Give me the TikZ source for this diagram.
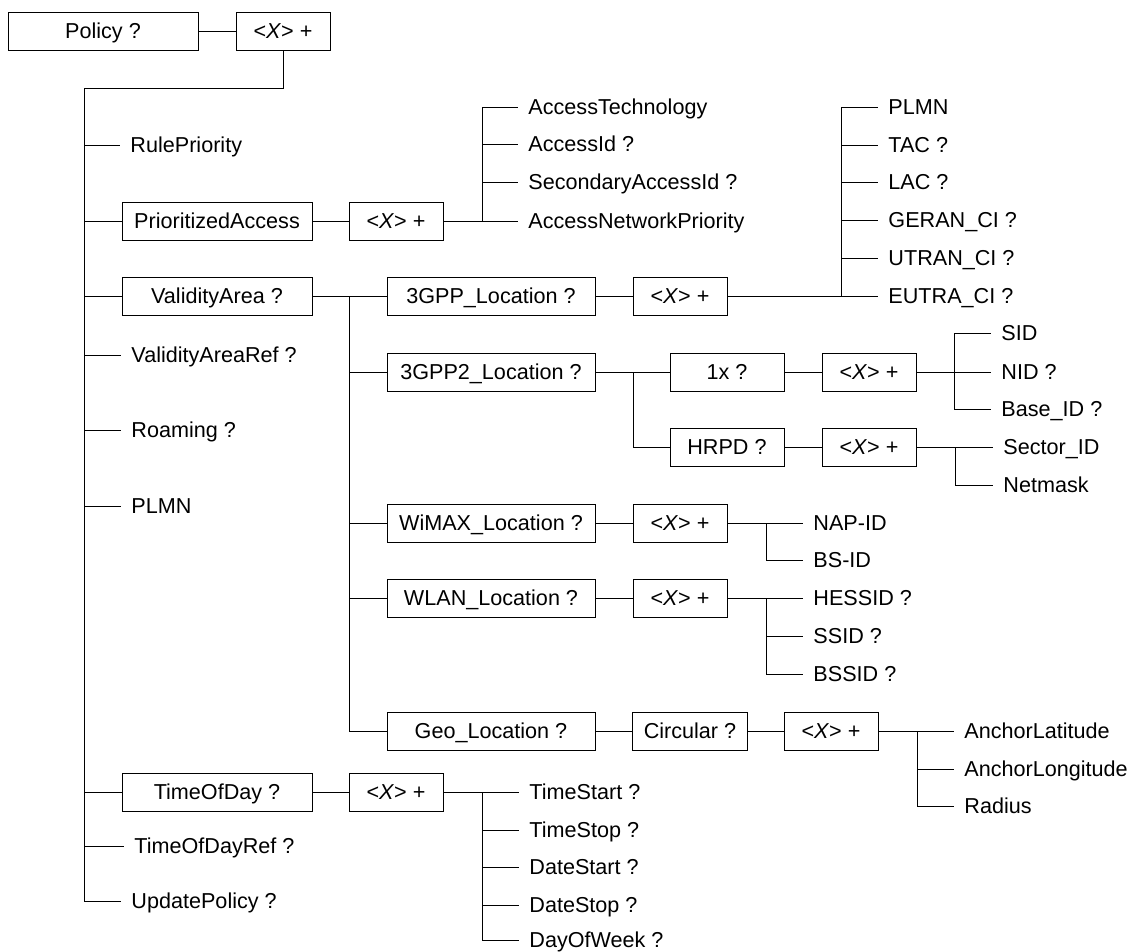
\documentclass[tikz,border=0pt]{standalone}
\usepackage{fontspec}
\setmainfont{Liberation Sans}
\newcommand{\multX}{<\textit{X}> +}

\begin{document}
\begin{tikzpicture}[x=1pt, y=-1pt, line width=0.9pt,
  every node/.style={font=\fontsize{21.6}{26}\selectfont, text height=15.5pt, text depth=0pt},
  elem/.style={rectangle, draw, minimum height=38pt, inner sep=0pt},
  lvlone/.style={elem, minimum width=190pt},
  lvltwo/.style={elem, minimum width=208pt},
  subbox/.style={elem, minimum width=114pt},
  mult/.style={elem, minimum width=94pt},
  leaf/.style={anchor=west, inner xsep=10pt, inner ysep=0pt}]
\useasboundingbox (0,0) rectangle (1130,952);

  % root
  \node[lvlone] (policy) at (103,31) {Policy ?};
  \node[mult] (policyx) at (283,31) {\multX};
  \draw (policy) -- (policyx);

  % first level
  \node[leaf] (rule) at (120,145) {RulePriority};
  \node[lvlone] (prio) at (217,221) {PrioritizedAccess};
  \node[lvlone] (valid) at (217,296) {ValidityArea ?};
  \node[leaf] (validref) at (121,355) {ValidityAreaRef ?};
  \node[leaf] (roam) at (121,430) {Roaming ?};
  \node[leaf] (plmn) at (121,506) {PLMN};
  \node[lvlone] (tod) at (217,792) {TimeOfDay ?};
  \node[leaf] (todref) at (124,846) {TimeOfDayRef ?};
  \node[leaf] (upd) at (121,901) {UpdatePolicy ?};

  \coordinate (mainbus) at (84,88);
  \draw (policyx.south) |- (mainbus) -- (mainbus |- upd.west);
  \foreach \c in {rule,prio,valid,validref,roam,plmn,tod,todref,upd}
    \draw (mainbus |- \c.west) -- (\c.west);

  % prioritized access
  \node[mult] (priox) at (396,221) {\multX};
  \node[leaf] (acctech) at (518,107) {AccessTechnology};
  \node[leaf] (accid) at (518,144) {AccessId ?};
  \node[leaf] (secid) at (518,182) {SecondaryAccessId ?};
  \node[leaf] (netprio) at (518,221) {AccessNetworkPriority};
  \draw (prio) -- (priox);
  \coordinate (accbus) at (482,221);
  \draw (priox.east) -- (accbus) |- (acctech.west);
  \foreach \c in {accid,secid,netprio}
    \draw (accbus |- \c.west) -- (\c.west);

  % validity area
  \node[lvltwo] (gpp) at (491,296) {3GPP\_Location ?};
  \node[lvltwo] (gpptwo) at (491,372) {3GPP2\_Location ?};
  \node[lvltwo] (wimax) at (491,523) {WiMAX\_Location ?};
  \node[lvltwo] (wlan) at (491,598) {WLAN\_Location ?};
  \node[lvltwo] (geo) at (491,731) {Geo\_Location ?};
  \coordinate (locbus) at (349,296);
  \draw (valid.east) -- (locbus) -- (locbus |- geo.west);
  \foreach \c in {gpp,gpptwo,wimax,wlan,geo}
    \draw (locbus |- \c.west) -- (\c.west);

  % 3GPP location
  \node[mult] (gppx) at (680,296) {\multX};
  \node[leaf] (gplmn) at (878,107) {PLMN};
  \node[leaf] (tac) at (878,145) {TAC ?};
  \node[leaf] (lac) at (878,182) {LAC ?};
  \node[leaf] (geran) at (878,220) {GERAN\_CI ?};
  \node[leaf] (utran) at (878,258) {UTRAN\_CI ?};
  \node[leaf] (eutra) at (878,296) {EUTRA\_CI ?};
  \draw (gpp) -- (gppx);
  \coordinate (gppbus) at (841,296);
  \draw (gppx.east) -- (gppbus) |- (gplmn.west);
  \foreach \c in {tac,lac,geran,utran,eutra}
    \draw (gppbus |- \c.west) -- (\c.west);

  % 3GPP2 location
  \node[subbox] (onex) at (727,372) {1x ?};
  \node[subbox] (hrpd) at (727,447) {HRPD ?};
  \node[mult] (onexx) at (869,372) {\multX};
  \node[mult] (hrpdx) at (869,447) {\multX};
  \coordinate (gpptwobus) at (633,372);
  \draw (gpptwo) -- (onex);
  \draw (gpptwobus) |- (hrpd.west);
  \draw (onex) -- (onexx);
  \draw (hrpd) -- (hrpdx);

  \node[leaf] (sid) at (991,333) {SID};
  \node[leaf] (nid) at (991,372) {NID ?};
  \node[leaf] (baseid) at (991,409) {Base\_ID ?};
  \coordinate (onexbus) at (954,372);
  \draw (onexx.east) -- (onexbus);
  \draw (onexbus |- sid.west) -- (onexbus |- baseid.west);
  \foreach \c in {sid,nid,baseid}
    \draw (onexbus |- \c.west) -- (\c.west);

  \node[leaf] (sector) at (993,447) {Sector\_ID};
  \node[leaf] (netmask) at (993,485) {Netmask};
  \coordinate (hrpdbus) at (955,447);
  \draw (hrpdx.east) -- (hrpdbus) |- (netmask.west);
  \draw (hrpdbus) -- (sector.west);

  % WiMAX location
  \node[mult] (wimaxx) at (680,523) {\multX};
  \node[leaf] (napid) at (803,523) {NAP-ID};
  \node[leaf] (bsid) at (803,560) {BS-ID};
  \draw (wimax) -- (wimaxx);
  \coordinate (wimaxbus) at (766,523);
  \draw (wimaxx.east) -- (napid.west);
  \draw (wimaxbus) |- (bsid.west);

  % WLAN location
  \node[mult] (wlanx) at (680,598) {\multX};
  \node[leaf] (hessid) at (803,598) {HESSID ?};
  \node[leaf] (ssid) at (803,636) {SSID ?};
  \node[leaf] (bssid) at (803,674) {BSSID ?};
  \draw (wlan) -- (wlanx);
  \coordinate (wlanbus) at (766,598);
  \draw (wlanx.east) -- (hessid.west);
  \draw (wlanbus) |- (bssid.west);
  \draw (wlanbus |- ssid.west) -- (ssid.west);

  % geo location
  \node[elem, minimum width=115pt] (circ) at (690,731) {Circular ?};
  \node[mult] (geox) at (831,731) {\multX};
  \node[leaf] (alat) at (954,731) {AnchorLatitude};
  \node[leaf] (alon) at (954,769) {AnchorLongitude};
  \node[leaf] (radius) at (954,806) {Radius};
  \draw (geo) -- (circ);
  \draw (circ) -- (geox);
  \coordinate (geobus) at (917,731);
  \draw (geox.east) -- (alat.west);
  \draw (geobus) |- (radius.west);
  \draw (geobus |- alon.west) -- (alon.west);

  % time of day
  \node[mult] (todx) at (396,792) {\multX};
  \draw (tod) -- (todx);
  \coordinate (todbus) at (482,792);
  \node[leaf] (tstart) at (519,792) {TimeStart ?};
  \node[leaf] (tstop) at (519,830) {TimeStop ?};
  \node[leaf] (dstart) at (519,867) {DateStart ?};
  \node[leaf] (dstop) at (519,905) {DateStop ?};
  \node[leaf] (dow) at (519,940) {DayOfWeek ?};
  \draw (todx.east) -- (tstart.west);
  \draw (todbus) |- (dow.west);
  \foreach \c in {tstop,dstart,dstop}
    \draw (todbus |- \c.west) -- (\c.west);

\end{tikzpicture}
\end{document}
